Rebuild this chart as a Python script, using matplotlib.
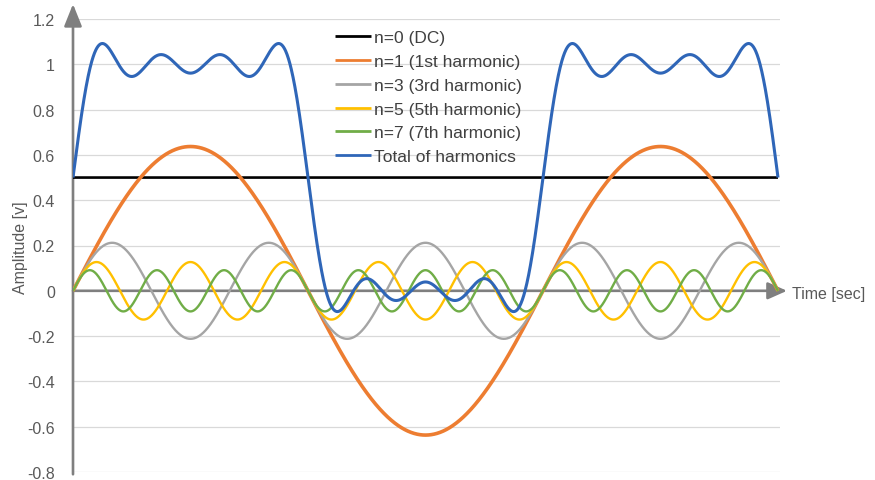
import numpy as np
import matplotlib
matplotlib.use("Agg")
import matplotlib.pyplot as plt

# ---- data ----
labels = ["n=0 (DC)", "n=1 (1st harmonic)", "n=3 (3rd harmonic)",
          "n=5 (5th harmonic)", "n=7 (7th harmonic)", "Total of harmonics"]
harmonic_n = [0, 1, 3, 5, 7]
amplitudes = [0.5, 0.637, 0.212, 0.127, 0.091]
periods_shown = 1.5
y_ticks = [-0.8, -0.6, -0.4, -0.2, 0, 0.2, 0.4, 0.6, 0.8, 1, 1.2]
y_ticklabels = ["-0.8", "-0.6", "-0.4", "-0.2", "0", "0.2", "0.4", "0.6", "0.8", "1", "1.2"]

colors = ["#000000", "#ED7D31", "#A5A5A5", "#FFC000", "#70AD47", "#2F66B8"]
widths = [1.9, 2.6, 1.7, 1.7, 1.7, 2.2]

plt.rcParams['font.family'] = ['Liberation Sans', 'DejaVu Sans']

W, H = 875, 481
fig = plt.figure(figsize=(W / 100, H / 100), dpi=100)
x0, x1, y0, y1 = 73, 780, 473, 20
ax = fig.add_axes([x0 / W, 1 - y0 / H, (x1 - x0) / W, (y0 - y1) / H])

t = np.linspace(0, periods_shown, 2000)
series = []
for n, a in zip(harmonic_n, amplitudes):
    if n == 0:
        series.append(np.full_like(t, a))
    else:
        series.append(a * np.sin(2 * np.pi * n * t))
total = np.sum(series, axis=0)
series.append(total)

for s, c, lw, lab in zip(series, colors, widths, labels):
    ax.plot(t, s, color=c, lw=lw, label=lab, solid_capstyle='butt', zorder=3)

tmax_px = 778
ax.set_xlim(0, periods_shown * (x1 - x0) / (tmax_px - x0))
ax.set_ylim(-0.8, 1.2)

for v in y_ticks:
    if v != 0:
        ax.axhline(v, color="#D9D9D9", lw=0.9, zorder=1)

for sp in ax.spines.values():
    sp.set_visible(False)
ax.set_xticks([])
ax.set_yticks(y_ticks)
ax.set_yticklabels(y_ticklabels)
ax.tick_params(axis='y', length=0, pad=13, labelsize=11.5, labelcolor="#595959")

axis_color = "#7F7F7F"
# y axis with arrow
ax.annotate('', xy=(0, 1.266), xytext=(0, -0.81),
            arrowprops=dict(arrowstyle='-|>,head_length=0.45,head_width=0.18',
                            color=axis_color, lw=1.9, mutation_scale=30,
                            shrinkA=0, shrinkB=0),
            annotation_clip=False, zorder=2)
# x axis with arrow
xt = periods_shown * (787 - x0) / (tmax_px - x0)
ax.annotate('', xy=(xt, 0), xytext=(0, 0),
            arrowprops=dict(arrowstyle='-|>,head_length=0.45,head_width=0.2',
                            color=axis_color, lw=1.9, mutation_scale=26,
                            shrinkA=0, shrinkB=0),
            annotation_clip=False, zorder=2)

fig.text(792 / W, 1 - 294 / H, "Time [sec]", fontsize=11.5, color="#595959",
         ha='left', va='center')
fig.text(21 / W, 1 - 248 / H, "Amplitude [v]", fontsize=11.5, color="#595959",
         ha='center', va='center', rotation=90)

leg = ax.legend(loc='upper left', bbox_to_anchor=(335 / W, 1 - 31 / H),
                bbox_transform=fig.transFigure, frameon=False, fontsize=12.5,
                handlelength=2.1, handletextpad=0.15, labelspacing=0.5,
                borderpad=0, borderaxespad=0)
for txt in leg.get_texts():
    txt.set_color("#404040")
for h in leg.get_lines():
    h.set_linewidth(2.0)

fig.savefig("out.png", dpi=100)
